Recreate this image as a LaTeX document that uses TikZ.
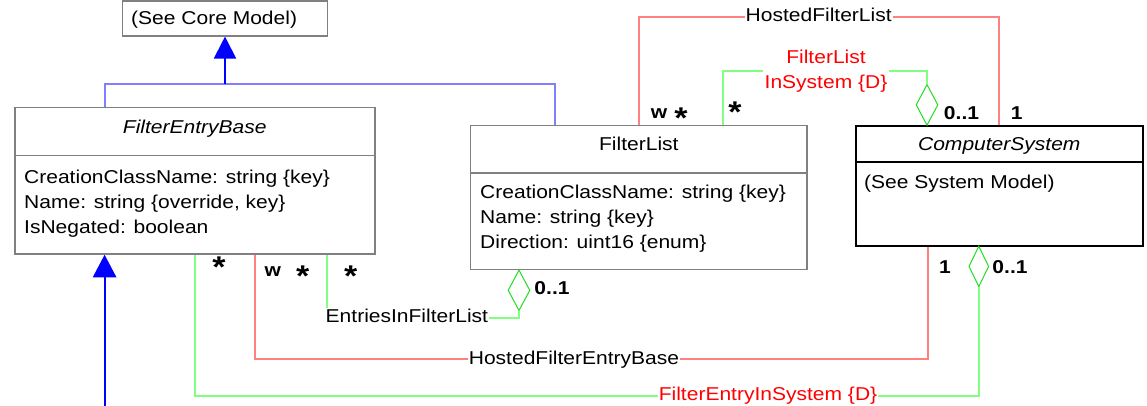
\documentclass[tikz,border=0pt]{standalone}
\usepackage{fontspec}
\setmainfont{Liberation Sans}[FakeStretch=1.13]
\usetikzlibrary{arrows.meta,positioning,shapes.geometric}
\definecolor{umlgray}   {HTML}{808080}
\definecolor{assocred}  {HTML}{FF8080}
\definecolor{assocgreen}{HTML}{80FF80}
\definecolor{diagreen}  {HTML}{22DD22}
\definecolor{inhblue}   {HTML}{0000FF}
\definecolor{inhlight}  {HTML}{7F7FFF}

\begin{document}
\begin{tikzpicture}[
  x=1pt, y=-1pt,
  every node/.style={font=\fontsize{18.6}{25}\selectfont, inner sep=1pt},
  cls/.style={rectangle, draw=umlgray, line width=1.5pt, inner sep=0pt},
  sys/.style={rectangle, draw=black, line width=2pt, inner sep=0pt},
  attr/.style={anchor=west, text height=14pt, text depth=4pt},
  ttl/.style={text height=14pt, text depth=4pt},
  lbl/.style={fill=white, text height=14pt, text depth=4pt},
  mult/.style={font=\fontsize{18.6}{25}\selectfont\bfseries, inner sep=0pt},
  star/.style={font=\fontsize{30}{30}\selectfont\bfseries, inner sep=0pt},
  dia/.style={diamond, draw=diagreen, line width=1pt, fill=white,
              inner sep=0pt, minimum width=22pt, minimum height=41pt},
  inh/.style={-{Triangle[width=22pt,length=22pt]}, line width=2pt, draw=inhblue},
  inhl/.style={line width=1.8pt, draw=inhlight},
  asr/.style={line width=1.8pt, draw=assocred},
  asg/.style={line width=1.8pt, draw=assocgreen},
]
\useasboundingbox (0,0) rectangle (1147,406);

% classes
\node[cls, minimum width=205pt, minimum height=35pt] (core) at (225,18.3) {};
\node[attr] (coretxt) at (130,20) {(See Core Model)};

\node[cls, minimum width=360pt, minimum height=48pt] (febhead) at (194.8,131.7) {};
\node[cls, minimum width=360pt, minimum height=98.3pt] (febbody) at (194.8,204.85) {};
\node[ttl] (febttl) at (194.8,129) {\itshape FilterEntryBase};
\node[attr] (feba1) at (23,178) {CreationClassName: string \{key\}};
\node[attr] (feba2) at (23,203.5) {Name: string \{override, key\}};
\node[attr] (feba3) at (23,228) {IsNegated: boolean};

\node[cls, minimum width=336.3pt, minimum height=47.7pt] (flhead) at (638.85,149.15) {};
\node[cls, minimum width=336.3pt, minimum height=96.5pt] (flbody) at (638.85,221.25) {};
\node[ttl] (flttl) at (638.85,146) {FilterList};
\node[attr] (fla1) at (479,193) {CreationClassName: string \{key\}};
\node[attr] (fla2) at (479,218.5) {Name: string \{key\}};
\node[attr] (fla3) at (479,243.5) {Direction: uint16 \{enum\}};

\node[sys, minimum width=287.4pt, minimum height=36pt] (cshead) at (999.3,143.7) {};
\node[sys, minimum width=287.4pt, minimum height=84.3pt] (csbody) at (999.3,203.85) {};
\node[ttl] (csttl) at (999.3,146) {\itshape ComputerSystem};
\node[attr] (csa1) at (863,183) {(See System Model)};

% inheritance
\coordinate (gen) at (225,84);
\coordinate (genL) at (105,84);
\coordinate (genR) at (555,84);
\draw[inhl] (febhead.north -| genL) -- (genL) -- (genR) -- (flhead.north -| genR);
\draw[inh] (gen) -- (core.south);
\coordinate (sub) at (104.6,406);
\draw[inh, -{Triangle[width=23.4pt,length=22.7pt]}] (sub) -- (febbody.south -| sub);

% HostedFilterList
\node[lbl] (hfl) at (818.7,17) {HostedFilterList};
\draw[asr] (flhead.north) |- (hfl) -| (cshead.north);

% FilterListInSystem
\node[dia] (dfls) at (927,104.9) {};
\node[fill=white, text=red, align=center] (fls) at (826,70.7) {FilterList\\InSystem \{D\}};
\coordinate (flsL) at (723,70.7);
\draw[asg] (flhead.north -| flsL) |- (fls) -| (dfls.north);

% EntriesInFilterList
\node[dia, minimum height=40.7pt] (defl) at (519,290.3) {};
\coordinate (eflb) at (327,318);
\draw[asg] (febbody.south -| eflb) -- (eflb) -| (defl.south);
\node[lbl, anchor=west] (efl) at (324.5,317.5) {EntriesInFilterList};

% HostedFilterEntryBase
\node[lbl] (hfeb) at (574,359) {HostedFilterEntryBase};
\coordinate (hfebL) at (254.6,359);
\coordinate (hfebR) at (927.6,359);
\draw[asr] (febbody.south -| hfebL) -- (hfebL) -- (hfeb) -- (hfebR) -- (csbody.south -| hfebR);

% FilterEntryInSystem
\node[dia, minimum width=20pt, minimum height=40.7pt] (dfes) at (978.8,266.4) {};
\node[lbl, text=red] (fes) at (768,395.7) {FilterEntryInSystem \{D\}};
\coordinate (fesL) at (194.7,395.7);
\draw[asg] (febbody.south -| fesL) -- (fesL) -- (fes) -| (dfes.south);

% multiplicities
\node[star] (m1) at (219,267) {*};
\node[mult] (m2) at (272.7,272) {w};
\node[star] (m3) at (302.7,276) {*};
\node[star] (m4) at (350.7,276) {*};
\node[mult] (m5) at (552,288) {0..1};
\node[mult] (m6) at (945,267) {1};
\node[mult] (m7) at (1010,267) {0..1};
\node[mult] (m8) at (659,114) {w};
\node[star] (m9) at (681,118) {*};
\node[star] (m10) at (735,112) {*};
\node[mult] (m11) at (961.5,112.7) {0..1};
\node[mult] (m12) at (1016.7,112.7) {1};
\end{tikzpicture}
\end{document}
